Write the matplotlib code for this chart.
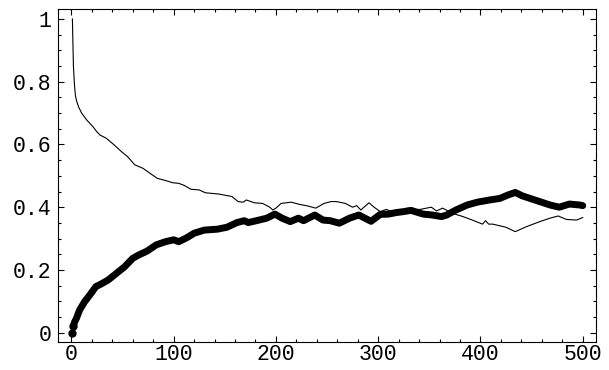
import matplotlib
matplotlib.use("Agg")
from matplotlib import pyplot as plt
from matplotlib.ticker import MultipleLocator

# thin curve
line_x = [1, 2, 3, 4, 5, 7, 10, 15, 21, 25, 28, 34, 42, 49, 55, 62, 70, 76, 84,
          92, 99, 105, 110, 117, 125, 131, 144, 157, 163, 168, 171, 179, 187,
          194, 197, 200, 205, 215, 223, 231, 239, 247, 254, 259, 268, 275, 279,
          283, 291, 296, 302, 308, 313, 318, 331, 341, 352, 357, 363, 373, 383,
          392, 402, 405, 408, 412, 425, 434, 445, 458, 468, 476, 484, 494, 500]
line_y = [1.0, 0.85, 0.79, 0.755, 0.74, 0.72, 0.70, 0.678, 0.657, 0.64, 0.63,
          0.62, 0.598, 0.577, 0.561, 0.535, 0.524, 0.51, 0.492, 0.485, 0.478,
          0.476, 0.47, 0.457, 0.455, 0.446, 0.442, 0.434, 0.418, 0.416, 0.423,
          0.414, 0.412, 0.40, 0.391, 0.397, 0.412, 0.416, 0.409, 0.404, 0.397,
          0.412, 0.418, 0.418, 0.412, 0.40, 0.405, 0.391, 0.414, 0.40, 0.386,
          0.393, 0.386, 0.391, 0.391, 0.393, 0.40, 0.388, 0.397, 0.38, 0.37,
          0.359, 0.346, 0.357, 0.346, 0.346, 0.336, 0.322, 0.338, 0.354, 0.365,
          0.372, 0.361, 0.359, 0.367]

# thick dotted series
dot_x = [1, 2, 3, 5, 8, 13, 18, 24, 29, 36, 44, 52, 60, 66, 74, 83, 92, 100,
         105, 113, 120, 125, 130, 143, 152, 162, 169, 173, 181, 191, 199, 206,
         214, 222, 227, 238, 246, 253, 262, 272, 281, 293, 302, 310, 318, 325,
         332, 344, 353, 362, 367, 376, 387, 397, 409, 419, 427, 434, 441, 455,
         468, 477, 487, 497, 500]
dot_y = [0.0, 0.02, 0.033, 0.046, 0.072, 0.099, 0.12, 0.147, 0.155, 0.168,
         0.189, 0.21, 0.237, 0.248, 0.26, 0.28, 0.29, 0.296, 0.29, 0.303, 0.317,
         0.322, 0.327, 0.33, 0.336, 0.351, 0.357, 0.351, 0.357, 0.365, 0.378,
         0.365, 0.354, 0.365, 0.357, 0.375, 0.359, 0.357, 0.349, 0.365, 0.375,
         0.355, 0.377, 0.378, 0.383, 0.386, 0.39, 0.378, 0.375, 0.37, 0.375,
         0.391, 0.407, 0.416, 0.423, 0.428, 0.439, 0.447, 0.436, 0.421, 0.407,
         0.40, 0.41, 0.407, 0.405]

x_ticks = [0, 100, 200, 300, 400, 500]
y_ticks = [0, 0.2, 0.4, 0.6, 0.8, 1.0]
y_labels = ["0", "0.2", "0.4", "0.6", "0.8", "1"]

fig = plt.figure(figsize=(6.09, 3.70), dpi=100)
ax = fig.add_axes([0.0957, 0.0765, 0.883, 0.8986])

ax.plot(line_x, line_y, color="black", lw=0.8)
ax.plot(dot_x[1:], dot_y[1:], color="black", lw=5, solid_capstyle="round",
        solid_joinstyle="round")
ax.plot(dot_x[:2], dot_y[:2], "o", color="black", ms=5)

ax.set_xlim(-12.8, 513)
ax.set_ylim(-0.0287, 1.031)
ax.set_xticks(x_ticks)
ax.set_yticks(y_ticks)
ax.set_yticklabels(y_labels)
ax.xaxis.set_minor_locator(MultipleLocator(20))
ax.yaxis.set_minor_locator(MultipleLocator(0.05))
ax.tick_params(which="both", direction="in", top=True, right=True,
               labelsize=15.5, width=0.8)
ax.tick_params(axis="x", pad=2)
ax.tick_params(axis="y", pad=5)
ax.tick_params(which="major", length=4)
ax.tick_params(which="minor", length=2.3)
for lab in ax.get_xticklabels() + ax.get_yticklabels():
    lab.set_family("Liberation Mono")
for s in ax.spines.values():
    s.set_linewidth(0.8)

plt.savefig("out.png")
